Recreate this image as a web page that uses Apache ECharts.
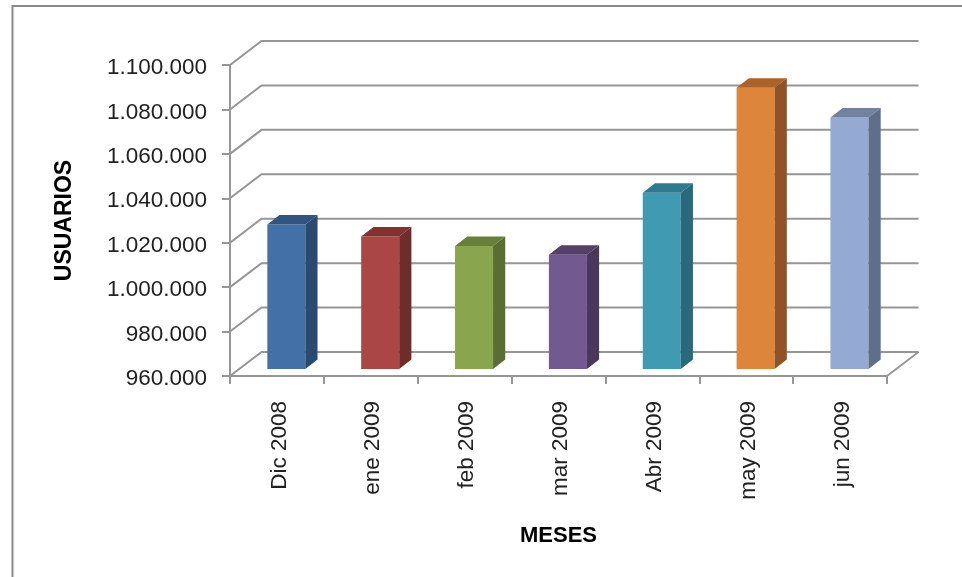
<!DOCTYPE html>
<html>
<head>
<meta charset="utf-8">
<style>html,body{margin:0;padding:0;background:#fff}#c{width:962px;height:577px}</style>
<script src="https://cdn.jsdelivr.net/npm/echarts@6/dist/echarts.min.js"></script>
</head>
<body>
<div id="c"></div>
<script>
const categories = ['Dic 2008','ene 2009','feb 2009','mar 2009','Abr 2009','may 2009','jun 2009'];
const usuarios = [1025000,1019600,1015400,1011400,1039300,1086600,1073200];
const yTicks = [960000,980000,1000000,1020000,1040000,1060000,1080000,1100000];
const frontColors = ['#4470A8','#AA4744','#89A54E','#72598F','#3F9AB2','#DE853C','#95AAD2'];
const topColors   = ['#31557F','#843230','#687F3A','#544169','#2E7A8E','#AC632A','#71829F'];
const sideColors  = ['#2B4A70','#6E2C2A','#5A6E32','#493859','#286A7C','#8F5325','#5F6E8B'];

const GREY = '#969696';
const DEPTH_X = 31.5, DEPTH_Y = -24;       // wall depth
const BAR_X = 9.4, BAR_Y = -7;             // bar front plane inside the depth
const BAR_DX = 12.2, BAR_DY = -9.5;        // bar depth
const BAR_RATIO = 0.405;
const FONT = '"Liberation Sans", Arial, sans-serif';

const chart = echarts.init(document.getElementById('c'), null, {renderer:'canvas'});

function wallItem(params, api) {
  const p = api.coord([0, api.value(0)]);
  const halfCat = api.size([1,0])[0] / 2;
  const x0 = p[0] - halfCat, y = p[1];
  const x1 = x0 + halfCat * 2 * categories.length;
  const children = [{
    type:'polyline', silent:true,
    shape:{points:[[x0,y],[x0+DEPTH_X,y+DEPTH_Y],[x1+DEPTH_X,y+DEPTH_Y]]},
    style:{stroke:GREY,lineWidth:2,fill:null}
  }];
  if (params.dataIndex === 0) {
    children.push({
      type:'line', silent:true,
      shape:{x1:x1,y1:y,x2:x1+DEPTH_X,y2:y+DEPTH_Y},
      style:{stroke:GREY,lineWidth:2}
    });
  }
  return {type:'group',children};
}

function barItem(params, api) {
  const i = api.value(0);
  const top = api.coord([i, api.value(1)]);
  const base = api.coord([i, yTicks[0]]);
  const w = api.size([1,0])[0] * BAR_RATIO;
  const x0 = top[0] + BAR_X - w/2, x1 = x0 + w;
  const yt = top[1] + BAR_Y, yb = base[1] + BAR_Y;
  return {type:'group',children:[
    {type:'rect',silent:true,shape:{x:x0,y:yt,width:w,height:yb-yt},style:{fill:frontColors[i]}},
    {type:'polygon',silent:true,shape:{points:[[x0,yt],[x1,yt],[x1+BAR_DX,yt+BAR_DY],[x0+BAR_DX,yt+BAR_DY]]},style:{fill:topColors[i]}},
    {type:'polygon',silent:true,shape:{points:[[x1,yt],[x1+BAR_DX,yt+BAR_DY],[x1+BAR_DX,yb+BAR_DY],[x1,yb]]},style:{fill:sideColors[i]}}
  ]};
}

chart.setOption({
  animation:false,
  backgroundColor:'#fff',
  graphic:[{
    type:'polyline',silent:true,
    shape:{points:[[12.5,577],[12.5,6],[962,6]]},
    style:{stroke:'#8a8a8a',lineWidth:2,fill:null}
  }],
  grid:{left:230,right:75,top:65,bottom:201,containLabel:false},
  xAxis:{
    type:'category',data:categories,
    name:'MESES',nameLocation:'middle',nameGap:149,
    nameTextStyle:{fontFamily:FONT,fontWeight:'bold',fontSize:22,color:'#000'},
    axisLine:{lineStyle:{color:GREY,width:2}},
    axisTick:{show:true,length:8,alignWithLabel:false,lineStyle:{color:GREY,width:2}},
    axisLabel:{rotate:90,margin:25,fontFamily:FONT,fontSize:22.5,color:'#222',interval:0,verticalAlign:'top',lineHeight:5},
    splitLine:{show:false}
  },
  yAxis:{
    type:'value',min:960000,max:1100000,interval:20000,
    name:'USUARIOS',nameLocation:'middle',nameGap:154,
    nameTextStyle:{fontFamily:FONT,fontWeight:'bold',fontSize:23,color:'#000'},
    axisLine:{show:true,lineStyle:{color:GREY,width:2}},
    axisTick:{show:true,length:8,lineStyle:{color:GREY,width:2}},
    axisLabel:{margin:23,fontFamily:FONT,fontSize:22.5,color:'#222',verticalAlign:'top',lineHeight:6,
      formatter:v=>String(v).replace(/\B(?=(\d{3})+(?!\d))/g,'.')},
    splitLine:{show:false}
  },
  series:[
    {type:'custom',coordinateSystem:'cartesian2d',renderItem:wallItem,
     data:yTicks.map(v=>[v]),encode:{y:0},z:1,silent:true},
    {type:'custom',coordinateSystem:'cartesian2d',renderItem:barItem,
     data:usuarios.map((v,i)=>[i,v]),encode:{x:0,y:1},z:2,silent:true}
  ]
});
</script>
</body>
</html>
